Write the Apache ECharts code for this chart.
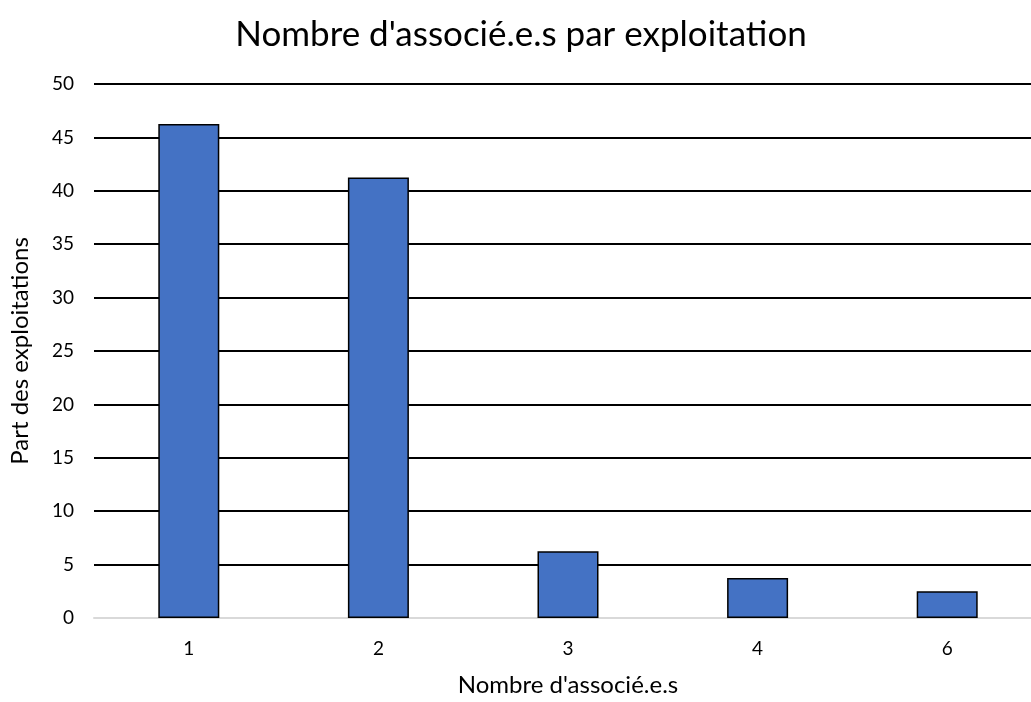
<!DOCTYPE html>
<html>
<head>
<meta charset="utf-8">
<script src="https://cdn.jsdelivr.net/npm/echarts@6/dist/echarts.min.js"></script>
<style>
  html, body { margin: 0; padding: 0; background: #fff; overflow: hidden; }
  /* the plot runs past the right edge of the picture, so the chart box is wider than the window */
  #chart { width: 1042px; height: 702px; }
</style>
</head>
<body>
<div id="chart"></div>
<script>
// nombre d'associé.e.s (catégories) et part des exploitations (%)
const categories = ['1', '2', '3', '4', '6']
const shares = [46.25, 41.25, 6.25, 3.75, 2.5]
const yTicks = { min: 0, max: 50, interval: 5 }

const font = 'Lato, "Open Sans", sans-serif'

const chart = echarts.init(document.getElementById('chart'))

chart.setOption({
  animation: false,
  title: {
    text: "Nombre d'associé.e.s par exploitation",
    left: 'center',
    top: 12,
    textStyle: { fontFamily: font, fontSize: 35, fontWeight: 'normal', color: '#000' }
  },
  grid: {
    left: 93,
    top: 84,
    height: 541,
    right: 0
  },
  xAxis: {
    type: 'category',
    data: categories,
    name: "Nombre d'associé.e.s",
    nameLocation: 'middle',
    nameGap: 55,
    nameTextStyle: { fontFamily: font, fontSize: 24, color: '#000' },
    axisLine: { lineStyle: { color: '#d9d9d9', width: 2 } },
    axisTick: { show: false },
    axisLabel: { fontFamily: font, fontSize: 19, color: '#000', margin: 21 }
  },
  yAxis: {
    type: 'value',
    min: yTicks.min,
    max: yTicks.max,
    interval: yTicks.interval,
    name: 'Part des exploitations',
    nameLocation: 'middle',
    nameGap: 62,
    nameTextStyle: { fontFamily: font, fontSize: 24, color: '#000' },
    axisLine: { show: false },
    axisTick: { show: false },
    axisLabel: { fontFamily: font, fontSize: 19, color: '#000', margin: 20 },
    splitLine: { lineStyle: { color: '#000', width: 2 } }
  },
  series: [
    {
      type: 'bar',
      data: shares,
      barWidth: 61,
      z: 3,
      itemStyle: {
        color: '#4472c4',
        borderColor: '#000',
        borderWidth: 1.5
      }
    }
  ]
})
</script>
</body>
</html>
